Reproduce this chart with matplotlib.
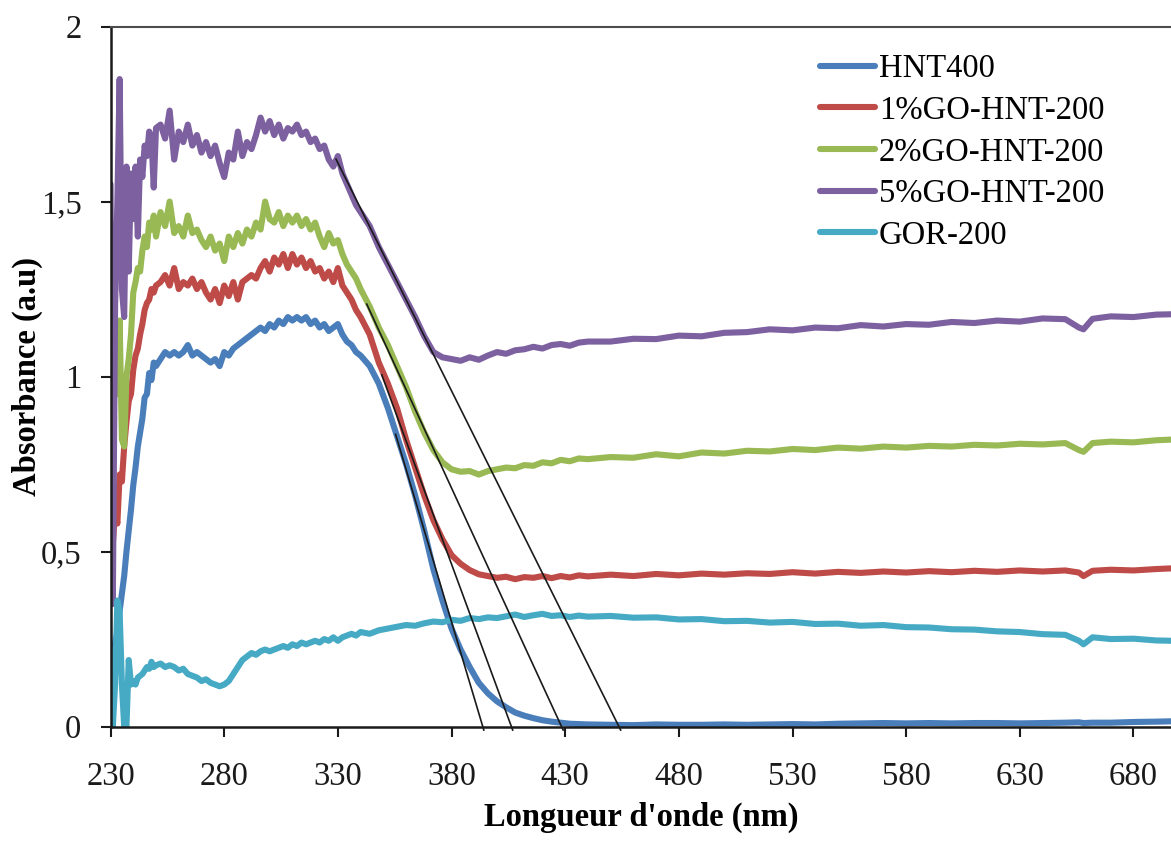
"""UV-vis absorbance spectra of HNT / GO-HNT samples with band-edge tangents.

Saves out.png (1171x841).
"""

import matplotlib

matplotlib.use("Agg")
import matplotlib.pyplot as plt
import numpy as np

# wavelength grid (nm)
WL_START = [230, 231, 232, 233, 234, 235, 236, 237, 238, 239, 240,
            241, 242, 243, 244, 245, 246, 247, 248, 249, 250]
WL_PLATEAU = [252, 254, 256, 258, 260, 262, 264, 266, 268, 270, 272, 274,
              276, 278, 280, 282, 284, 286, 288, 290, 292, 294, 296, 298,
              300, 302, 304, 306, 308, 310, 312, 314, 316, 318, 320, 322,
              324, 326, 328, 330, 332, 334, 336, 338, 340]
WL_EDGE = [344, 348, 352, 356, 360, 364, 368, 372, 376, 380, 384, 388, 392,
           396, 400, 404, 408, 412, 416, 420, 424, 428, 432, 436, 440]
WL_TAIL = [450, 460, 470, 480, 490, 500, 510, 520, 530, 540, 550, 560, 570,
           580, 590, 600, 610, 620, 630, 640, 650, 656, 658, 662, 670, 680,
           690, 697]

HNT400 = [
    0.18, 0.20, 0.24, 0.27, 0.33, 0.38, 0.43, 0.50, 0.56, 0.62, 0.69,
    0.74, 0.80, 0.84, 0.88, 0.94, 0.95, 1.01, 0.99, 1.04, 1.03,
    1.05, 1.07, 1.06, 1.07, 1.06, 1.07, 1.09, 1.06, 1.07, 1.06, 1.05, 1.04,
    1.05, 1.03, 1.07, 1.06, 1.08, 1.09, 1.10, 1.11, 1.12, 1.13, 1.14, 1.13,
    1.15, 1.14, 1.16, 1.15, 1.17, 1.16, 1.17, 1.16, 1.17, 1.15, 1.16, 1.14,
    1.15, 1.13, 1.14, 1.15, 1.12, 1.10, 1.09, 1.07, 1.06,
    1.03, 0.98, 0.91, 0.83, 0.75, 0.66, 0.56, 0.45, 0.36, 0.28, 0.22, 0.17,
    0.125, 0.095, 0.072, 0.055, 0.04, 0.031, 0.024, 0.018, 0.014, 0.011,
    0.008, 0.007, 0.006,
    0.005, 0.004, 0.006, 0.005, 0.005, 0.006, 0.005, 0.006, 0.007, 0.006,
    0.008, 0.009, 0.010, 0.009, 0.010, 0.009, 0.010, 0.010, 0.009, 0.010,
    0.011, 0.012, 0.010, 0.011, 0.011, 0.013, 0.014, 0.015,
]
GO1_HNT200 = [
    0.45, 0.52, 0.62, 0.58, 0.72, 0.70, 0.80, 0.87, 0.93, 0.95, 1.02,
    1.06, 1.08, 1.12, 1.15, 1.19, 1.21, 1.22, 1.25, 1.24, 1.26,
    1.27, 1.29, 1.26, 1.31, 1.25, 1.27, 1.26, 1.28, 1.25, 1.27, 1.24, 1.22,
    1.25, 1.21, 1.26, 1.23, 1.27, 1.22, 1.27, 1.28, 1.29, 1.28, 1.31, 1.33,
    1.30, 1.34, 1.32, 1.35, 1.31, 1.35, 1.32, 1.34, 1.31, 1.33, 1.30, 1.31,
    1.28, 1.30, 1.27, 1.31, 1.26, 1.24, 1.22, 1.19, 1.17,
    1.12, 1.04, 0.98, 0.91, 0.82, 0.74, 0.66, 0.59, 0.535, 0.49, 0.465,
    0.447, 0.435, 0.43, 0.425, 0.428, 0.421, 0.427, 0.425, 0.43, 0.424,
    0.43, 0.426, 0.432, 0.429,
    0.434, 0.43, 0.436, 0.432, 0.437, 0.434, 0.438, 0.436, 0.441, 0.437,
    0.442, 0.439, 0.443, 0.44, 0.444, 0.441, 0.445, 0.442, 0.446, 0.443,
    0.446, 0.44, 0.43, 0.445, 0.448, 0.446, 0.45, 0.452,
]
GO2_HNT200 = [
    0.90, 1.05, 1.15, 0.95, 1.16, 0.82, 0.80, 1.00, 1.05, 1.12, 1.24,
    1.27, 1.31, 1.30, 1.36, 1.40, 1.37, 1.44, 1.42, 1.46, 1.40,
    1.47, 1.43, 1.50, 1.41, 1.43, 1.40, 1.46, 1.41, 1.42, 1.39, 1.37, 1.40,
    1.36, 1.38, 1.33, 1.40, 1.37, 1.41, 1.38, 1.42, 1.40, 1.44, 1.42, 1.50,
    1.45, 1.44, 1.47, 1.43, 1.46, 1.44, 1.46, 1.43, 1.45, 1.42, 1.44, 1.40,
    1.37, 1.41, 1.38, 1.39, 1.35, 1.32, 1.30, 1.28, 1.25,
    1.20, 1.14, 1.09, 1.03, 0.97, 0.90, 0.84, 0.79, 0.755, 0.735, 0.728,
    0.73, 0.72, 0.73, 0.735, 0.74, 0.738, 0.747, 0.745, 0.755, 0.752,
    0.762, 0.758, 0.766, 0.764,
    0.77, 0.768, 0.778, 0.772, 0.783, 0.78, 0.788, 0.786, 0.793, 0.79,
    0.797, 0.794, 0.80, 0.797, 0.802, 0.80, 0.805, 0.803, 0.808, 0.806,
    0.81, 0.79, 0.785, 0.81, 0.814, 0.812, 0.818, 0.82,
]
GO5_HNT200 = [
    1.55, 0.35, 1.20, 1.50, 1.85, 1.25, 1.17, 1.60, 1.30, 1.58, 1.45,
    1.60, 1.40, 1.62, 1.57, 1.66, 1.63, 1.70, 1.68, 1.54, 1.71,
    1.72, 1.68, 1.76, 1.62, 1.70, 1.67, 1.72, 1.66, 1.69, 1.64, 1.67, 1.63,
    1.66, 1.61, 1.57, 1.64, 1.62, 1.70, 1.63, 1.67, 1.65, 1.69, 1.74, 1.70,
    1.73, 1.69, 1.72, 1.68, 1.71, 1.70, 1.72, 1.69, 1.70, 1.67, 1.68, 1.65,
    1.66, 1.62, 1.60, 1.63, 1.58, 1.55, 1.52, 1.49, 1.47,
    1.43, 1.37, 1.32, 1.27, 1.22, 1.17, 1.115, 1.07, 1.055, 1.05, 1.045,
    1.055, 1.048, 1.06, 1.07, 1.065, 1.075, 1.078, 1.085, 1.08, 1.09,
    1.093, 1.088, 1.097, 1.10,
    1.10, 1.108, 1.107, 1.117, 1.115, 1.125, 1.127, 1.135, 1.132, 1.14,
    1.138, 1.147, 1.143, 1.15, 1.148, 1.156, 1.153, 1.16, 1.157, 1.166,
    1.164, 1.14, 1.135, 1.165, 1.172, 1.17, 1.177, 1.178,
]
GOR200 = [
    0.22, 0.00, 0.12, 0.36, 0.33, 0.12, 0.00, 0.00, 0.19, 0.12, 0.13,
    0.12, 0.14, 0.145, 0.15, 0.16, 0.17, 0.165, 0.185, 0.17, 0.175,
    0.18, 0.17, 0.175, 0.17, 0.16, 0.165, 0.15, 0.145, 0.14, 0.13, 0.135,
    0.125, 0.12, 0.115, 0.12, 0.13, 0.15, 0.17, 0.19, 0.20, 0.21, 0.205,
    0.215, 0.22, 0.215, 0.22, 0.225, 0.23, 0.225, 0.235, 0.23, 0.24, 0.235,
    0.24, 0.245, 0.24, 0.25, 0.245, 0.255, 0.245, 0.255, 0.26, 0.265, 0.26,
    0.27,
    0.265, 0.275, 0.28, 0.285, 0.29, 0.288, 0.295, 0.30, 0.298, 0.305,
    0.302, 0.31, 0.307, 0.312, 0.31, 0.315, 0.32, 0.313, 0.318, 0.322,
    0.316, 0.318, 0.313, 0.317, 0.314,
    0.316, 0.311, 0.312, 0.306, 0.307, 0.301, 0.302, 0.297, 0.299, 0.293,
    0.294, 0.288, 0.29, 0.284, 0.283, 0.278, 0.277, 0.272, 0.27, 0.264,
    0.262, 0.245, 0.235, 0.255, 0.25, 0.251, 0.246, 0.245,
]

LABELS = ["HNT400", "1%GO-HNT-200", "2%GO-HNT-200", "5%GO-HNT-200", "GOR-200"]
COLORS = ["#4A7EBB", "#BE4B48", "#98B954", "#7D60A0", "#46AAC5"]

# tangent lines (start, end) in (nm, absorbance)
TANGENTS = [
    ((355.4, 0.835), (394.2, -0.01)),
    ((349.3, 1.005), (406.9, -0.01)),
    ((342.7, 1.207), (429.1, -0.01)),
    ((329.2, 1.621), (454.4, -0.01)),
]

X_TICKS = [230, 280, 330, 380, 430, 480, 530, 580, 630, 680]
Y_TICKS = [0, 0.5, 1, 1.5, 2]
Y_TICK_LABELS = ["0", "0,5", "1", "1,5", "2"]

FONT = "Liberation Serif"
FS = 23.5


def main():
    plt.rcParams["font.family"] = [FONT, "DejaVu Serif"]
    wl = np.array(WL_START + WL_PLATEAU + WL_EDGE + WL_TAIL, dtype=float)
    series = [HNT400, GO1_HNT200, GO2_HNT200, GO5_HNT200, GOR200]

    fig = plt.figure(figsize=(11.71, 8.41), dpi=100)
    ax = fig.add_axes([0.0944, 0.1361, 0.9056, 0.8323])

    for vals, lab, col in zip(series, LABELS, COLORS):
        ax.plot(wl, vals, color=col, lw=4.4, label=lab,
                solid_joinstyle="round", solid_capstyle="round")

    for (x0, y0), (x1, y1) in TANGENTS:
        ax.plot([x0, x1], [y0, y1], color="#1a1a1a", lw=1.2, clip_on=False)

    ax.set_xlim(230, 696.5)
    ax.set_ylim(0, 2)
    ax.set_xticks(X_TICKS)
    ax.set_yticks(Y_TICKS)
    ax.set_yticklabels(Y_TICK_LABELS)
    ax.tick_params(direction="out", length=7, width=1.5, labelsize=FS,
                   colors="#1a1a1a")
    ax.tick_params(axis="y", pad=14)
    ax.tick_params(axis="x", pad=18)

    ax.spines["right"].set_visible(False)
    ax.spines["top"].set_color("#4d4d4d")
    ax.spines["top"].set_linewidth(1.5)
    for side in ("left", "bottom"):
        ax.spines[side].set_linewidth(1.8)
        ax.spines[side].set_color("#1a1a1a")

    ax.set_xlabel("Longueur d'onde (nm)", fontsize=FS, fontweight="bold")
    ax.set_ylabel("Absorbance (a.u)", fontsize=FS, fontweight="bold")
    ax.xaxis.set_label_coords(0.5, -0.108)
    ax.yaxis.set_label_coords(-0.064, 0.5)

    ax.legend(loc="upper left", bbox_to_anchor=(0.700, 0.936),
              bbox_transform=fig.transFigure, frameon=False, fontsize=FS,
              handlelength=1.7, handletextpad=0.12, labelspacing=0.34,
              borderpad=0, borderaxespad=0)

    fig.savefig("out.png", dpi=100)


if __name__ == "__main__":
    main()
